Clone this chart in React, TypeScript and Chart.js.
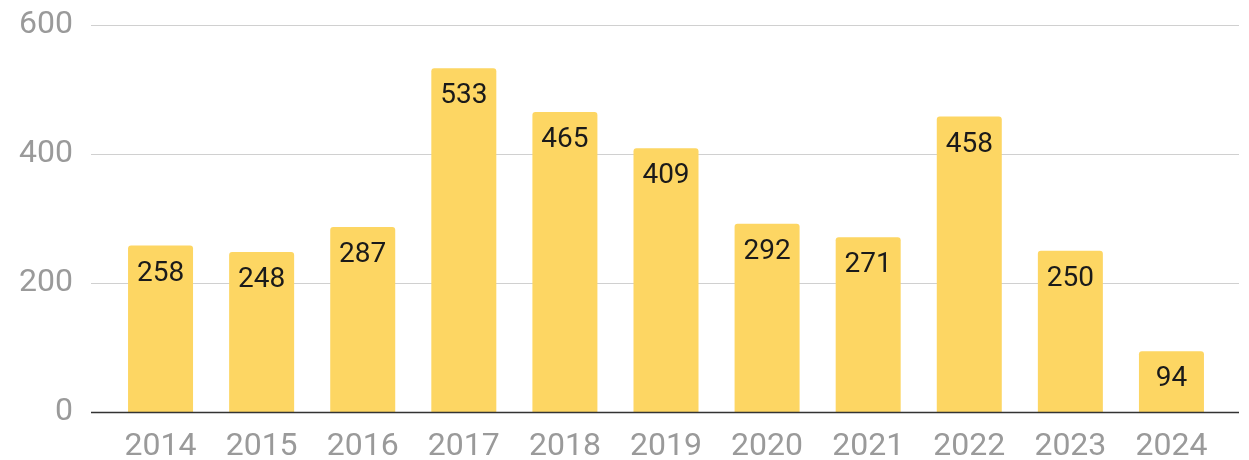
import React, { useEffect, useRef } from "react";
import { Chart, registerables } from "chart.js";

Chart.register(...registerables);

const years = ["2014", "2015", "2016", "2017", "2018", "2019", "2020", "2021", "2022", "2023", "2024"];
const counts = [258, 248, 287, 533, 465, 409, 292, 271, 458, 250, 94];
const yTicks = [0, 200, 400, 600];

const BAR_COLOR = "#FDD663";
const GRID_COLOR = "#d0d0d0";
const AXIS_COLOR = "#333333";
const TICK_COLOR = "#9a9a9a";
const FONT = "Roboto";

const gridPlugin = {
  id: "extGrid",
  beforeDatasetsDraw(chart: any) {
    const { ctx, chartArea, scales } = chart;
    const y = scales.y;
    ctx.save();
    ctx.strokeStyle = GRID_COLOR;
    ctx.lineWidth = 1;
    for (const v of yTicks) {
      if (v === 0) continue;
      const py = Math.round(y.getPixelForValue(v)) + 0.5;
      ctx.beginPath();
      ctx.moveTo(chartArea.left - 19, py);
      ctx.lineTo(chartArea.right + 17, py);
      ctx.stroke();
    }
    ctx.restore();
  },
  afterDatasetsDraw(chart: any) {
    const { ctx, chartArea, scales } = chart;
    const y = scales.y;
    ctx.save();
    const meta = chart.getDatasetMeta(0);
    ctx.fillStyle = "#1a1a1a";
    ctx.font = `28px ${FONT}`;
    ctx.textAlign = "center";
    ctx.textBaseline = "middle";
    meta.data.forEach((bar: any, i: number) => {
      ctx.fillText(String(counts[i]), bar.x, bar.y + 28);
    });
    const py = Math.round(y.getPixelForValue(0)) + 0.5;
    ctx.strokeStyle = AXIS_COLOR;
    ctx.lineWidth = 1.5;
    ctx.beginPath();
    ctx.moveTo(chartArea.left - 19, py);
    ctx.lineTo(chartArea.right + 17, py);
    ctx.stroke();
    ctx.restore();
  },
};

export default function App() {
  const ref = useRef<HTMLCanvasElement | null>(null);

  useEffect(() => {
    document.body.style.margin = "0";
    const canvas = ref.current;
    if (!canvas) return;
    const chart = new Chart(canvas, {
      type: "bar",
      data: {
        labels: years,
        datasets: [
          {
            data: counts,
            backgroundColor: BAR_COLOR,
            borderWidth: 0,
            borderRadius: { topLeft: 3, topRight: 3, bottomLeft: 0, bottomRight: 0 },
            borderSkipped: "bottom",
            barPercentage: 0.643,
            categoryPercentage: 1,
          },
        ],
      },
      options: {
        animation: false,
        responsive: false,
        maintainAspectRatio: false,
        layout: { padding: { top: 25, right: 27, left: 0, bottom: 0 } },
        plugins: {
          legend: { display: false },
          tooltip: { enabled: false },
        },
        scales: {
          x: {
            grid: { display: false, drawTicks: false },
            border: { display: false },
            ticks: {
              color: TICK_COLOR,
              font: { family: FONT, size: 32 },
              padding: 16,
              maxRotation: 0,
              autoSkip: false,
            },
            afterFit(scale: any) {
              scale.height = 48;
              scale.paddingLeft = 0;
              scale.paddingRight = 0;
            },
          },
          y: {
            min: 0,
            max: 600,
            grid: { display: false, drawTicks: false },
            border: { display: false },
            ticks: {
              stepSize: 200,
              color: TICK_COLOR,
              font: { family: FONT, size: 32 },
              padding: 37,
            },
            afterFit(scale: any) {
              scale.width = 110;
              scale.paddingTop = 0;
              scale.paddingBottom = 0;
            },
          },
        },
      },
      plugins: [gridPlugin],
    });
    return () => chart.destroy();
  }, []);

  return (
    <div style={{ width: 1249, height: 460 }}>
      <canvas ref={ref} width={1249} height={460} style={{ display: "block" }} />
    </div>
  );
}
